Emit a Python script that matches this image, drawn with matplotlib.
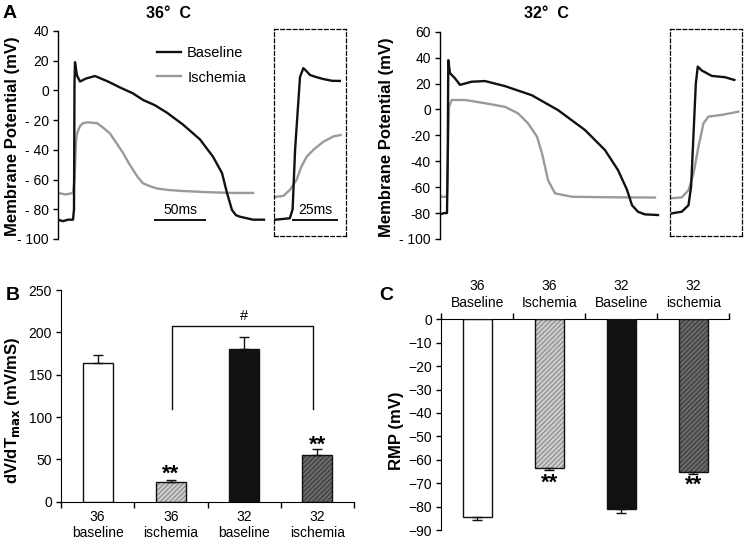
import matplotlib
matplotlib.use('Agg')
import matplotlib.pyplot as plt

plt.rcParams['font.family'] = ['Liberation Sans', 'DejaVu Sans']
plt.rcParams['hatch.linewidth'] = 0.8

# ---- panel A traces (time in ms, membrane potential in mV) ----
base36_t = [0, 5, 10, 15, 16, 16.5, 17, 19, 22, 28, 37, 50, 62, 75, 85, 97, 109, 125, 142, 155, 164, 169, 174, 178, 182, 195, 206]
base36_v = [-87, -88, -87, -87, -80, 5, 19, 10, 6, 8, 9.7, 6, 2, -2, -6.4, -10, -15, -23, -33, -44.6, -55.6, -69, -80.5, -84, -85, -87, -87]
isch36_t = [0, 8, 15, 16.5, 18, 19, 22, 25, 30, 39, 45, 52, 58, 65, 70, 75, 80, 85, 92, 99, 110, 125, 150, 175, 195]
isch36_v = [-69, -70, -69, -60, -35, -29, -24, -22, -21.5, -22, -25, -29, -35, -42, -48, -53.5, -58.5, -62.5, -64.5, -66, -67, -67.7, -68.5, -69, -69]

in_base36_t = [0.6, 5, 9, 10.6, 12, 14.8, 16.7, 18.5, 20.5, 24, 28, 33, 37.5]
in_base36_v = [-87, -86.5, -86, -80, -40, 9, 15, 13, 10.4, 9, 7.7, 6.5, 6.4]
in_isch36_t = [0.6, 5.3, 9, 12.9, 15.7, 18.6, 22.4, 28, 33.7, 37.9]
in_isch36_v = [-71.7, -71, -67, -60, -51, -44.6, -40, -34.6, -31, -30]

base32_t = [0, 4, 7, 7.7, 8.3, 10, 15, 20, 25, 31.7, 45, 65, 91.7, 118, 145, 165, 178, 187, 192, 198, 205, 218]
base32_v = [-81, -80, -80, -40, 38, 28, 24, 19, 20, 21.4, 21.9, 18, 11, -0.5, -15.9, -31.4, -46.8, -62, -73.9, -79, -81, -81.5]
isch32_t = [0, 7, 7.7, 9, 11.7, 25, 45, 65, 78, 88, 97, 102, 108, 115, 132, 170, 215]
isch32_v = [-67.4, -67.4, -40, 2, 7.3, 7.3, 4.8, 2, -3, -10.7, -21, -33.9, -54.5, -64.8, -67.4, -67.8, -68]

in_base32_t = [1, 6.6, 10.4, 11.9, 13.3, 14.6, 15.7, 18, 23.7, 31.3, 36.6]
in_base32_v = [-80.3, -79, -74, -59.7, -18.4, 20, 33, 30, 25.8, 24.8, 22.7]
in_isch32_t = [1, 6.6, 10.4, 13.3, 16.1, 19, 21.8, 29.4, 38.9]
in_isch32_v = [-68.6, -68, -62.4, -49.3, -28.8, -10.7, -5.6, -4.3, -1.8]

# ---- panel B / C bars ----
dvdt_labels = ['36\nbaseline', '36\nischemia', '32\nbaseline', '32\nischemia']
dvdt = [164, 23, 180, 55]
dvdt_err = [9, 2.5, 14, 7]

rmp_labels = ['36\nBaseline', '36\nIschemia', '32\nBaseline', '32\nischemia']
rmp = [-84.6, -63.4, -81.2, -65.1]
rmp_err = [1.0, 1.0, 1.4, 1.0]

W, H = 744, 547
fig = plt.figure(figsize=(W / 100, H / 100), dpi=100)

BLACK = '#111111'
GRAY = '#9a9a9a'
FS = 10          # tick labels
FS_CAT = 10      # bar category labels
FS_LAB = 12      # axis labels


def px_axes(x0, y0, x1, y1):
    return fig.add_axes([x0 / W, 1 - y1 / H, (x1 - x0) / W, (y1 - y0) / H])


def ftext(x, y, s, **kw):
    fig.text(x / W, 1 - y / H, s, **kw)


def trace_axes(ax, ymin, ymax, ticks, ticklabels, xmax):
    ax.set_xlim(0, xmax)
    ax.set_ylim(ymin, ymax)
    for side in ['top', 'right', 'bottom']:
        ax.spines[side].set_visible(False)
    ax.spines['left'].set_linewidth(1.0)
    ax.set_xticks([])
    ax.set_yticks(ticks)
    ax.set_yticklabels(ticklabels, fontsize=FS)
    ax.tick_params(axis='y', direction='out', length=3.6, width=1.0, pad=3)
    ax.patch.set_alpha(0)


def inset_axes(ax, ymin, ymax):
    ax.set_xlim(0, 41)
    ax.set_ylim(ymin, ymax)
    ax.set_xticks([])
    ax.set_yticks([])
    for sp in ax.spines.values():
        sp.set_linestyle((0, (3, 2)))
        sp.set_linewidth(0.9)
    ax.patch.set_alpha(0)


# ---------------- A left (36 C) ----------------
axA1 = px_axes(58, 31, 268, 239)
trace_axes(axA1, -100, 40, [40, 20, 0, -20, -40, -60, -80, -100],
           ['40', '20', '0', '- 20', '- 40', '- 60', '- 80', '- 100'], 210)
axA1.plot(isch36_t, isch36_v, color=GRAY, lw=1.7, label='Ischemia', zorder=2)
axA1.plot(base36_t, base36_v, color=BLACK, lw=1.7, label='Baseline', zorder=3)
axA1.plot([97, 147], [-87, -87], color=BLACK, lw=1.4)
axA1.text(122, -85.5, '50ms', ha='center', va='bottom', fontsize=FS)
h, l = axA1.get_legend_handles_labels()
axA1.legend(h[::-1], l[::-1], loc='upper left', bbox_to_anchor=(150 / W, 1 - 39 / H),
            bbox_transform=fig.transFigure, frameon=False, fontsize=10.5,
            borderpad=0, handlelength=1.65, handletextpad=0.4, labelspacing=0.7)

axA1i = px_axes(274, 29, 346, 236)
inset_axes(axA1i, -97.95, 41.35)
axA1i.plot(in_isch36_t, in_isch36_v, color=GRAY, lw=1.7)
axA1i.plot(in_base36_t, in_base36_v, color=BLACK, lw=1.7)
axA1i.plot([10.8, 35.8], [-87, -87], color=BLACK, lw=1.4)
axA1i.text(23.3, -85.5, '25ms', ha='center', va='bottom', fontsize=FS)

# ---------------- A right (32 C) ----------------
axA2 = px_axes(440, 31.7, 660, 239)
trace_axes(axA2, -100, 60, [60, 40, 20, 0, -20, -40, -60, -80, -100],
           ['60', '40', '20', '0', '-20', '-40', '-60', '-80', '- 100'], 220)
axA2.plot(isch32_t, isch32_v, color=GRAY, lw=1.7)
axA2.plot(base32_t, base32_v, color=BLACK, lw=1.7)

axA2i = px_axes(670.3, 29.3, 742, 236)
inset_axes(axA2i, -97.8, 61.8)
axA2i.plot(in_isch32_t, in_isch32_v, color=GRAY, lw=1.7)
axA2i.plot(in_base32_t, in_base32_v, color=BLACK, lw=1.7)

# titles / labels for A
ftext(169, 13, '36°  C', ha='center', va='center', fontsize=11.5, fontweight='bold')
ftext(546, 13, '32°  C', ha='center', va='center', fontsize=11.5, fontweight='bold')
ftext(13, 136, 'Membrane Potential (mV)', rotation=90, ha='center', va='center',
      fontsize=FS_LAB, fontweight='bold')
ftext(386, 137, 'Membrane Potential (mV)', rotation=90, ha='center', va='center',
      fontsize=FS_LAB, fontweight='bold')

# ---------------- bar helpers ----------------
faces = ['white', '#cdcdcd', BLACK, '#6a6a6a']
hatches = [None, '///////', None, '///////']
hatch_cols = ['white', '#8a8a8a', BLACK, '#3a3a3a']
xpos = [0.5, 1.5, 2.5, 3.5]
bw = 0.41


def draw_bars(ax, vals):
    for x, v, fc, hc, ht in zip(xpos, vals, faces, hatch_cols, hatches):
        ax.bar(x, v, bw, color=fc, edgecolor=hc, hatch=ht, lw=0, zorder=2)
        ax.bar(x, v, bw, fill=False, edgecolor=BLACK, lw=1.0, zorder=3)


# ---------------- B ----------------
axB = px_axes(61, 290, 354, 501.7)
draw_bars(axB, dvdt)
axB.errorbar(xpos, dvdt, yerr=[[0] * 4, dvdt_err], fmt='none', ecolor=BLACK,
             elinewidth=1.0, capsize=3.5, capthick=1.0, zorder=4)
axB.set_xlim(0, 4)
axB.set_ylim(0, 250)
axB.set_yticks([0, 50, 100, 150, 200, 250])
axB.set_xticks([0, 1, 2, 3, 4])
axB.set_xticklabels([])
axB.set_xticks(xpos, minor=True)
axB.set_xticklabels(dvdt_labels, minor=True, fontsize=FS_CAT, linespacing=1.2)
axB.tick_params(axis='x', which='minor', length=0, pad=6)
axB.tick_params(axis='x', which='major', direction='out', length=4, width=1.0)
axB.tick_params(axis='y', direction='out', length=3.6, width=1.0, pad=3, labelsize=FS)
for side in ['top', 'right']:
    axB.spines[side].set_visible(False)
axB.plot([1.51, 1.51, 3.44, 3.44], [109, 208, 208, 109], color=BLACK, lw=1.0)
axB.text(2.5, 211, '#', ha='center', va='bottom', fontsize=10.5)
axB.text(xpos[1], 33, '**', ha='center', va='center', fontsize=16, fontweight='bold')
axB.text(xpos[3], 67, '**', ha='center', va='center', fontsize=16, fontweight='bold')
ftext(13, 410, 'dV/dT$_{\\mathbf{max}}$ (mV/mS)', rotation=90, ha='center', va='center',
      fontsize=FS_LAB, fontweight='bold')

# ---------------- C ----------------
axC = px_axes(441.3, 319.3, 729.3, 530)
draw_bars(axC, rmp)
axC.errorbar(xpos, rmp, yerr=[rmp_err, [0] * 4], fmt='none', ecolor=BLACK,
             elinewidth=1.0, capsize=3.5, capthick=1.0, zorder=4)
axC.set_xlim(0, 4)
axC.set_ylim(-90, 0)
axC.set_yticks(list(range(0, -91, -10)))
axC.xaxis.tick_top()
axC.set_xticks([0, 1, 2, 3, 4])
axC.set_xticklabels([])
axC.set_xticks(xpos, minor=True)
axC.set_xticklabels(rmp_labels, minor=True, fontsize=FS_CAT, linespacing=1.2)
axC.tick_params(axis='x', which='minor', length=0, pad=7, top=True, bottom=False)
axC.tick_params(axis='x', which='major', direction='out', length=4, width=1.0, top=True, bottom=False)
axC.tick_params(axis='y', direction='out', length=3.6, width=1.0, pad=3, labelsize=FS)
for side in ['bottom', 'right']:
    axC.spines[side].set_visible(False)
axC.text(xpos[1], -70.2, '**', ha='center', va='center', fontsize=16, fontweight='bold')
axC.text(xpos[3], -70.9, '**', ha='center', va='center', fontsize=16, fontweight='bold')
ftext(397, 431, 'RMP (mV)', rotation=90, ha='center', va='center',
      fontsize=FS_LAB, fontweight='bold')

# panel letters
ftext(10, 14, 'A', ha='center', va='center', fontsize=14, fontweight='bold')
ftext(13, 296, 'B', ha='center', va='center', fontsize=14, fontweight='bold')
ftext(386, 296, 'C', ha='center', va='center', fontsize=14, fontweight='bold')

fig.savefig('out.png', dpi=100)
